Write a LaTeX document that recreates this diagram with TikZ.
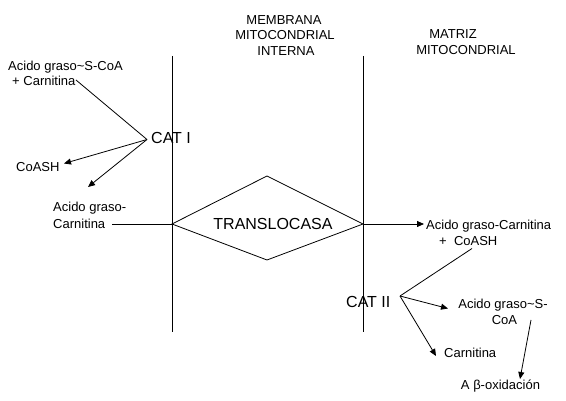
\documentclass[tikz,border=0pt]{standalone}
\usepackage{fontspec}
\setmainfont{Liberation Sans}
\usetikzlibrary{arrows.meta}
\begin{document}
\begin{tikzpicture}[x=1pt,y=-1pt,
  txt/.style={inner sep=0pt,anchor=base west,font=\fontsize{13}{15}\selectfont},
  ctxt/.style={inner sep=0pt,anchor=base,font=\fontsize{13}{15}\selectfont},
  big/.style={inner sep=0pt,anchor=base west,font=\fontsize{16}{18}\selectfont},
  ln/.style={line width=0.8pt},
  arr/.style={line width=0.8pt,-{Triangle[length=7pt,width=6pt]}}]
\useasboundingbox[fill=white] (0,0) rectangle (566,401);
% membranes
\coordinate (m1t) at (172,56); \coordinate (m1b) at (172,332);
\coordinate (m2t) at (363,56); \coordinate (m2b) at (363,332);
\draw[ln] (m1t) -- (m1b);
\draw[ln] (m2t) -- (m2b);
% headers
\node[ctxt] (h1) at (284,24.5) {MEMBRANA};
\node[ctxt] (h2) at (285,40) {MITOCONDRIAL};
\node[ctxt] (h3) at (286,55.5) {INTERNA};
\node[ctxt] (h4) at (453,39) {MATRIZ};
\node[ctxt] (h5) at (466,55) {MITOCONDRIAL};
% translocasa diamond
\coordinate (dl) at (172,224); \coordinate (dt) at (267,176);
\coordinate (dr) at (363,224); \coordinate (db) at (267,260);
\draw[ln] (dl) -- (dt) -- (dr) -- (db) -- cycle;
\node[inner sep=0pt,anchor=base,font=\fontsize{16}{18}\selectfont] (tr) at (273,229.5) {TRANSLOCASA};
% left side
\node[txt] (a1) at (8,70.5) {Acido graso\textasciitilde S-CoA};
\node[txt] (a2) at (12,86) {+ Carnitina};
\node[big] (cat1) at (151,143.5) {CAT I};
\coordinate (v1) at (147,139.5);
\coordinate (a2e) at (76,80);
\draw[ln] (a2e) -- (v1);
\node[txt] (coash) at (16,171.5) {CoASH};
\coordinate (t1) at (64,163.5);
\draw[arr] (v1) -- (t1);
\coordinate (t2) at (88,187);
\draw[arr] (v1) -- (t2);
\node[txt] (b1) at (53,212) {Acido graso-};
\node[txt] (b2) at (53,229) {Carnitina};
\coordinate (b2e) at (112,224);
\draw[ln] (b2e) -- (dl);
% right side
\node[txt] (c1) at (426,230) {Acido graso-Carnitina};
\coordinate (t3) at (424,224);
\draw[arr] (dr) -- (t3);
\node[txt] (c2) at (439,246) {+\ \ CoASH};
\coordinate (c2e) at (472,248.5);
\coordinate (v2) at (400,296);
\draw[ln] (c2e) -- (v2);
\node[big] (cat2) at (346,308) {CAT II};
\node[ctxt] (d1) at (503,308.5) {Acido graso\textasciitilde S-};
\node[ctxt] (d2) at (504.5,324.5) {CoA};
\coordinate (t4) at (448,308.5);
\draw[arr] (v2) -- (t4);
\node[txt] (e1) at (444,358) {Carnitina};
\coordinate (t5) at (436,356);
\draw[arr] (v2) -- (t5);
\node[ctxt] (f1) at (500.5,389) {A β-oxidación};
\coordinate (d2s) at (531,320);
\coordinate (t6) at (520,379);
\draw[arr] (d2s) -- (t6);
\end{tikzpicture}
\end{document}
